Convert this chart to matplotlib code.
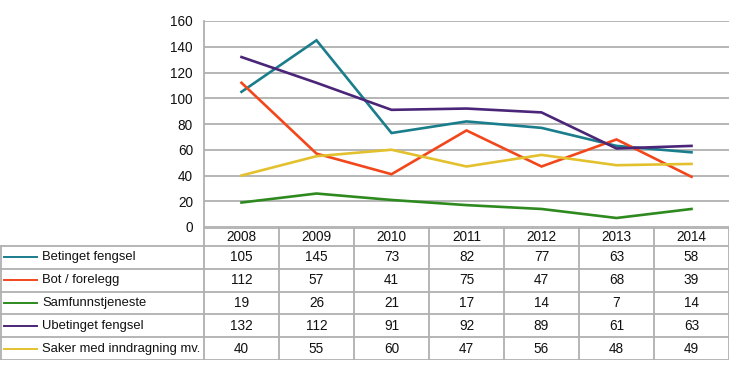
import numpy as np
import matplotlib.pyplot as plt

plt.rcParams['font.family'] = ['Liberation Sans', 'DejaVu Sans']

years = ['2008', '2009', '2010', '2011', '2012', '2013', '2014']
series_names = ['Betinget fengsel', 'Bot / forelegg', 'Samfunnstjeneste',
                'Ubetinget fengsel', 'Saker med inndragning mv.']
betinget = [105, 145, 73, 82, 77, 63, 58]
bot = [112, 57, 41, 75, 47, 68, 39]
samfunn = [19, 26, 21, 17, 14, 7, 14]
ubetinget = [132, 112, 91, 92, 89, 61, 63]
inndragning = [40, 55, 60, 47, 56, 48, 49]
values = [betinget, bot, samfunn, ubetinget, inndragning]
colors = ['#1a7d8c', '#f2461b', '#2e8a1f', '#4a2578', '#e3c12e']

W, H = 730, 376
fig = plt.figure(figsize=(W / 100, H / 100), dpi=100)

# pixel layout
ax_left, ax_right, ax_top, ax_bottom = 204, 729, 21, 227
tab_bottom = 360
head_h = 19
row_h = (tab_bottom - ax_bottom - head_h) / 5
grid_c = '#b0b0b0'

ax = fig.add_axes([ax_left / W, 1 - ax_bottom / H,
                   (ax_right - ax_left) / W, (ax_bottom - ax_top) / H])
x = np.arange(len(years))
for vals, c in zip(values, colors):
    ax.plot(x, vals, color=c, lw=1.9, solid_joinstyle='miter')
ax.set_xlim(-0.5, len(years) - 0.5)
ax.set_ylim(0, 160)
ax.set_yticks(range(0, 161, 20))
ax.set_xticks([])
ax.yaxis.grid(True, color=grid_c, lw=1.3)
ax.set_axisbelow(True)
for s in ['top', 'right', 'bottom']:
    ax.spines[s].set_visible(False)
ax.spines['left'].set_color(grid_c)
ax.spines['left'].set_linewidth(1.3)
ax.tick_params(axis='y', length=0, pad=8, labelsize=9.8, labelcolor='#111111')

# data table
colw = (ax_right - ax_left) / len(years)
x0 = -0.5 - ax_left / colw
tab = fig.add_axes([0, 1 - tab_bottom / H, ax_right / W, (tab_bottom - ax_bottom) / H])
tab.set_xlim(x0, len(years) - 0.5)
tab.set_ylim(tab_bottom - ax_bottom, 0)
tab.axis('off')
lk = dict(color=grid_c, lw=1.3, solid_capstyle='butt')
# horizontal lines
tab.plot([-0.5, len(years) - 0.5], [0.5, 0.5], **lk)
for i in range(6):
    yy = head_h + i * row_h
    tab.plot([x0, len(years) - 0.5], [yy, yy], **lk)
# vertical lines
for j in range(len(years) + 1):
    tab.plot([j - 0.5, j - 0.5], [0, tab_bottom - ax_bottom], **lk)
tab.plot([x0 + 0.01, x0 + 0.01], [head_h, tab_bottom - ax_bottom], **lk)

for j, yr in enumerate(years):
    tab.text(j, head_h / 2 + 0.5, yr, ha='center', va='center', fontsize=9.8, color='#111111')
for i, (name, vals, c) in enumerate(zip(series_names, values, colors)):
    yc = head_h + (i + 0.5) * row_h
    tab.plot([x0 + 4 / colw, x0 + 37 / colw], [yc, yc], color=c, lw=1.4)
    tab.text(x0 + 42 / colw, yc, name, ha='left', va='center', fontsize=9.4, color='#111111')
    for j, v in enumerate(vals):
        tab.text(j, yc, str(v), ha='center', va='center', fontsize=9.8, color='#111111')

fig.savefig('out.png', dpi=100)
